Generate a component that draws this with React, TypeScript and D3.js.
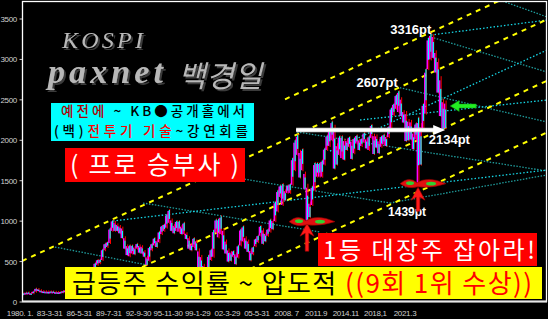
import React from "react";
import * as d3 from "d3";

// KOSPI quarterly ranges, 1980Q1 .. 2022Q4
const startYear = 1980;
const quarterLow = [
  100, 104, 108, 104, 108, 128, 140, 128, 125, 120, 118, 122, 122, 118, 116, 118,
  120, 130, 130, 135, 135, 132, 135, 145, 160, 195, 240, 250, 270, 380, 460, 480,
  520, 640, 680, 730, 880, 880, 880, 850, 790, 660, 580, 566, 600, 590, 660, 610,
  600, 560, 459, 510, 640, 700, 680, 740, 840, 880, 920, 980, 880, 850, 880, 870,
  840, 840, 780, 660, 640, 680, 640, 350, 380, 280, 290, 300, 520, 560, 860, 800,
  840, 650, 600, 500, 510, 560, 468, 550, 700, 750, 660, 620, 515, 590, 690, 740,
  820, 720, 750, 820, 870, 900, 1000, 1120, 1300, 1200, 1260, 1350, 1350, 1450, 1630, 1820,
  1540, 1630, 1400, 1000, 1050, 1200, 1380, 1550, 1550, 1550, 1700, 1880, 1930, 2000, 1650, 1700,
  1820, 1780, 1760, 1880, 1920, 1770, 1840, 1960, 1880, 1930, 1980, 1900, 1880, 2030, 1830, 1910,
  1840, 1920, 1950, 1930, 2040, 2150, 2310, 2390, 2350, 2300, 2220, 1990, 2000, 2010, 1890, 2010,
  1439, 1700, 2150, 2330, 2880, 3000, 3020, 2840, 2590, 2300, 2134, 2150,
];
const quarterHigh = [
  106, 115, 118, 112, 130, 165, 160, 145, 135, 132, 130, 130, 130, 126, 124, 125,
  135, 145, 142, 145, 145, 142, 150, 165, 200, 250, 285, 280, 400, 480, 520, 525,
  650, 720, 740, 910, 1007, 990, 960, 940, 920, 800, 700, 700, 700, 680, 720, 700,
  690, 630, 560, 680, 720, 790, 760, 870, 940, 960, 1080, 1138, 1020, 950, 1000, 1000,
  940, 980, 850, 800, 720, 790, 760, 650, 570, 460, 380, 580, 650, 890, 1020, 1028,
  1059, 900, 760, 650, 620, 630, 600, 700, 900, 937, 800, 760, 640, 680, 780, 820,
  940, 900, 850, 900, 1020, 1010, 1240, 1380, 1440, 1460, 1380, 1440, 1460, 1780, 2000, 2064,
  1870, 1890, 1600, 1450, 1230, 1430, 1720, 1720, 1720, 1750, 1900, 2060, 2120, 2231, 2180, 1950,
  2050, 2050, 2010, 2000, 2040, 2000, 2030, 2060, 2010, 2020, 2090, 2020, 2050, 2190, 2070, 2060,
  2000, 2050, 2070, 2050, 2170, 2400, 2450, 2560, 2607, 2520, 2360, 2350, 2250, 2240, 2100, 2210,
  2280, 2200, 2450, 2880, 3266, 3316, 3300, 3100, 3000, 2780, 2500, 2480,
];

const yTicks = [0, 500, 1000, 1500, 2000, 2500, 3000, 3500];
const xTickLabels = [
  "1980. 1.", "83-3-31", "86-5-31", "89-7-31", "92-9-30", "95-11-30", "99-1-29",
  "02-3-29", "05-5-31", "2008. 7", "2011.9", "2014.11", "2018,1", "2021.3",
];

// trend channel lines [year, value]
const channelLines: [number, number][][] = [
  [[2006.65, 2507], [2028.43, 3730]],
  [[1980, 507], [2033.19, 3494]],
  [[1992.16, 432], [2033.19, 2736]],
  [[2001.28, 305], [2033.19, 2097]],
];
const fanDark: [number, number][][] = [
  [[1983.34, 680], [1992.66, 458]],
  [[1992.26, 1224], [2010.19, 866]],
  [[1998.03, 1608], [2017.28, 1224]],
  [[2017.28, 1224], [2033.19, 1571]],
  [[2007.86, 2102], [2033.19, 1620]],
  [[2017.99, 2659], [2033.19, 2226]],
  [[2026.4, 3821], [2033.19, 3525]],
  [[2021.44, 3277], [2033.19, 2844]],
];
const fanBright: [number, number][][] = [
  [[1989.22, 1002], [2033.19, 1632]],
  [[2011.2, 1867], [2033.19, 3116]],
  [[2021.44, 3302], [2033.19, 3487]],
  [[2014.25, 2251], [2033.19, 2498]],
];

const peakLabels = ["3316pt", "2607pt", "2134pt", "1439pt"];
const peakTimes = [2021.375, 2018.125, 2022.625, 2020.125];
const peakValues = [3316, 2607, 2134, 1439];

const xScale = d3.scaleLinear().domain([1980, 2033.19]).range([22, 547]);
const yScale = d3.scaleLinear().domain([0, 3500]).range([302, 19]);
const xLabelScale = d3.scalePoint<string>().domain(xTickLabels).range([20, 405]);

const KR = "'Noto Sans CJK KR', 'Noto Sans', sans-serif";
const SANS = "'Liberation Sans', Arial, sans-serif";
const SERIF = "'Liberation Serif', serif";

function Wing({ cx, cy }: { cx: number; cy: number }) {
  const d = `M${cx - 18},${cy} Q${cx - 9},${cy - 8} ${cx - 1},${cy - 1} Q${cx + 10},${cy - 8} ${cx + 28},${cy}
    Q${cx + 12},${cy + 5} ${cx},${cy + 3} Q${cx - 10},${cy + 6} ${cx - 18},${cy} Z`;
  return (
    <g>
      <path d={d} fill="#e01010" stroke="#900000" strokeWidth={0.6} />
      <ellipse cx={cx - 8} cy={cy - 0.5} rx={4} ry={1.8} fill="#30d030" />
      <ellipse cx={cx + 13} cy={cy} rx={5} ry={1.8} fill="#30d030" />
    </g>
  );
}

function UpArrow({ x, tipY, len }: { x: number; tipY: number; len: number }) {
  const head = `M${x},${tipY} L${x + 7},${tipY + 13} L${x + 1.8},${tipY + 10} L${x + 1.8},${tipY + len}
    L${x - 1.8},${tipY + len} L${x - 1.8},${tipY + 10} L${x - 7},${tipY + 13} Z`;
  return <path d={head} fill="#ff1a1a" stroke="#a00000" strokeWidth={0.6} />;
}

export default function App() {
  const line = d3
    .line<[number, number]>()
    .x((d) => xScale(d[0]))
    .y((d) => yScale(d[1]));

  const bars = quarterLow.map((lo, i) => ({
    t: startYear + i / 4 + 0.125,
    lo,
    hi: quarterHigh[i],
    up: i === 0 ? true : quarterHigh[i] >= quarterHigh[i - 1],
  }));

  const px = peakTimes.map((t) => xScale(t));
  const py = peakValues.map((v) => yScale(v));

  const lastX = xScale(2022.875);
  const arrowY = yScale(2064) - 5;
  const arrowX0 = xScale(2007.875) - 1;
  const greenY = yScale(2424);

  return (
    <div style={{ position: "absolute", left: 0, top: 0 }}>
      <svg width={548} height={319} style={{ display: "block", background: "#000" }}>
        <defs>
          <clipPath id="plot">
            <rect x={22} y={1} width={525} height={301} />
          </clipPath>
          <filter id="shadow" x="-10%" y="-10%" width="130%" height="140%">
            <feDropShadow dx={2} dy={2} stdDeviation={0.3} floodColor="#3a3a3a" floodOpacity={1} />
          </filter>
        </defs>
        <rect x={0} y={0} width={548} height={319} fill="#000" />

        <g clipPath="url(#plot)">
          {fanDark.map((l, i) => (
            <path key={"fd" + i} d={line(l) || ""} stroke="#1f9a9a" strokeWidth={1.3} strokeDasharray="1.5 1.5" fill="none" />
          ))}
          {fanBright.map((l, i) => (
            <path key={"fb" + i} d={line(l) || ""} stroke="#16d6e6" strokeWidth={1.3} strokeDasharray="1.5 2" fill="none" />
          ))}
          {channelLines.map((l, i) => (
            <path key={"cl" + i} d={line(l) || ""} stroke="#ffff00" strokeWidth={2} strokeDasharray="5 5" fill="none" />
          ))}
          {bars.map((b, i) => {
            const cx = xScale(b.t);
            const yH = yScale(b.hi);
            const yL = yScale(b.lo);
            const r = Math.max(yL - yH, 2);
            return (
              <g key={"b" + i}>
                <line x1={cx + 0.9} x2={cx + 0.9} y1={yH - 1} y2={yL + 1} stroke="#ff0000" strokeWidth={1} />
                <rect x={cx - 1.4} width={1.5} y={yH + r * 0.08} height={r * 0.92} fill="#ff00ff" />
                <rect x={cx - 0.1} width={1.2} y={b.up ? yH : yH + r * 0.3} height={r * 0.7} fill="#00ffff" />
              </g>
            );
          })}
        </g>

        {/* frame */}
        <rect x={22.5} y={1.5} width={524} height={300} fill="none" stroke="#ffffff" strokeWidth={1.3} />
        <line x1={22} x2={547} y1={301.5} y2={301.5} stroke="#e8e8e8" strokeWidth={2} />

        {/* y axis */}
        {yTicks.map((v) => (
          <g key={"yt" + v}>
            <line x1={19.5} x2={22} y1={yScale(v)} y2={yScale(v)} stroke="#cccccc" strokeWidth={1} />
            <text x={17} y={yScale(v) + 3} fontSize={8} fontFamily={SANS} letterSpacing={-0.3} fill="#d0d0d0" textAnchor="end">
              {v}
            </text>
          </g>
        ))}
        {xTickLabels.map((s) => (
          <text key={"xt" + s} x={xLabelScale(s)} y={316} fontSize={8} fontFamily={SANS} letterSpacing={-0.3} fill="#d0d0d0" textAnchor="middle">
            {s}
          </text>
        ))}

        {/* titles */}
        <g filter="url(#shadow)" fill="#b8b8b8">
          <text x={62} y={48} fontFamily={SERIF} fontStyle="italic" fontSize={24} textLength={81} lengthAdjust="spacing">KOSPI</text>
          <text x={48} y={83} fontFamily={SERIF} fontStyle="italic" fontWeight="bold" fontSize={34} textLength={115} lengthAdjust="spacing">paxnet</text>
          <text x={178} y={87} fontFamily={KR} fontStyle="italic" fontSize={30} textLength={84} lengthAdjust="spacing">백경일</text>
        </g>

        {/* cyan box */}
        <rect x={51} y={103} width={203} height={38} fill="#00ffff" />
        <text x={61} y={116} fontFamily={KR} fontSize={13.5} fontWeight={500} textLength={184} lengthAdjust="spacing">
          <tspan fill="#b00000">예전에</tspan>
          <tspan fill="#000"> ~ KB●공개홀에서</tspan>
        </text>
        <text x={54} y={135.7} fontFamily={KR} fontSize={13.5} fontWeight={500} textLength={194} lengthAdjust="spacing">
          <tspan fill="#000">(백)</tspan>
          <tspan fill="#ff0000">전투기 기술</tspan>
          <tspan fill="#000">~강연회를</tspan>
        </text>

        {/* red box 1 */}
        <rect x={65} y={148} width={180} height={34} fill="#ff0000" />
        <text x={70} y={174} fontFamily={KR} fontSize={25} fill="#ffffff" textLength={169} lengthAdjust="spacing">( 프로 승부사 )</text>

        {/* annotations */}
        <line x1={arrowX0} x2={lastX - 11} y1={arrowY} y2={arrowY} stroke="#d8d8d8" strokeWidth={4.5} />
        <line x1={arrowX0} x2={lastX - 11} y1={arrowY} y2={arrowY} stroke="#ffffff" strokeWidth={2.5} />
        <path d={`M${lastX - 12},${arrowY - 5} L${lastX},${arrowY} L${lastX - 12},${arrowY + 5} Z`} fill="#ffffff" />

        <path
          d={`M${lastX + 5},${greenY} L${lastX + 14},${greenY - 5.5} L${lastX + 14},${greenY - 2} L${lastX + 31},${greenY - 2}
            L${lastX + 31},${greenY + 2} L${lastX + 14},${greenY + 2} L${lastX + 14},${greenY + 5.5} Z`}
          fill="#22ee22"
          stroke="#119911"
          strokeWidth={0.5}
        />

        <text x={px[0] + 1} y={py[0] + 0.5} fontFamily={SANS} fontWeight="bold" fontSize={13} fill="#ffffff" textAnchor="end">{peakLabels[0]}</text>
        <text x={px[1] - 0.5} y={py[1] - 4} fontFamily={SANS} fontWeight="bold" fontSize={13} fill="#ffffff" textAnchor="end">{peakLabels[1]}</text>
        <text x={px[2] - 14} y={py[2] + 14.5} fontFamily={SANS} fontWeight="bold" fontSize={13} fill="#ffffff">{peakLabels[2]}</text>
        <text x={px[3] - 30} y={py[3] + 30} fontFamily={SANS} fontWeight="bold" fontSize={12} fill="#ffffff">{peakLabels[3]}</text>

        <UpArrow x={xScale(2008.875)} tipY={yScale(1000) + 2} len={28} />
        <Wing cx={xScale(2008.875)} cy={yScale(1000) + 0.5} />
        <UpArrow x={px[3]} tipY={py[3] + 1.5} len={24} />
        <Wing cx={px[3]} cy={py[3] - 2} />

        {/* red box 2 */}
        <rect x={318} y={233} width={219} height={33} fill="#ff0000" />
        <text x={323} y={259} fontFamily={KR} fontSize={24} fill="#ffffff" textLength={212} lengthAdjust="spacing">1등 대장주 잡아라!</text>

        {/* yellow box */}
        <rect x={65} y={267} width={477} height={32} fill="#ffff00" />
        <text x={72} y={293} fontFamily={KR} fontSize={26} textLength={460} lengthAdjust="spacing">
          <tspan fill="#000">급등주 수익률 ~ 압도적 </tspan>
          <tspan fill="#ff0000">((9회 1위 수상))</tspan>
        </text>
      </svg>
    </div>
  );
}
